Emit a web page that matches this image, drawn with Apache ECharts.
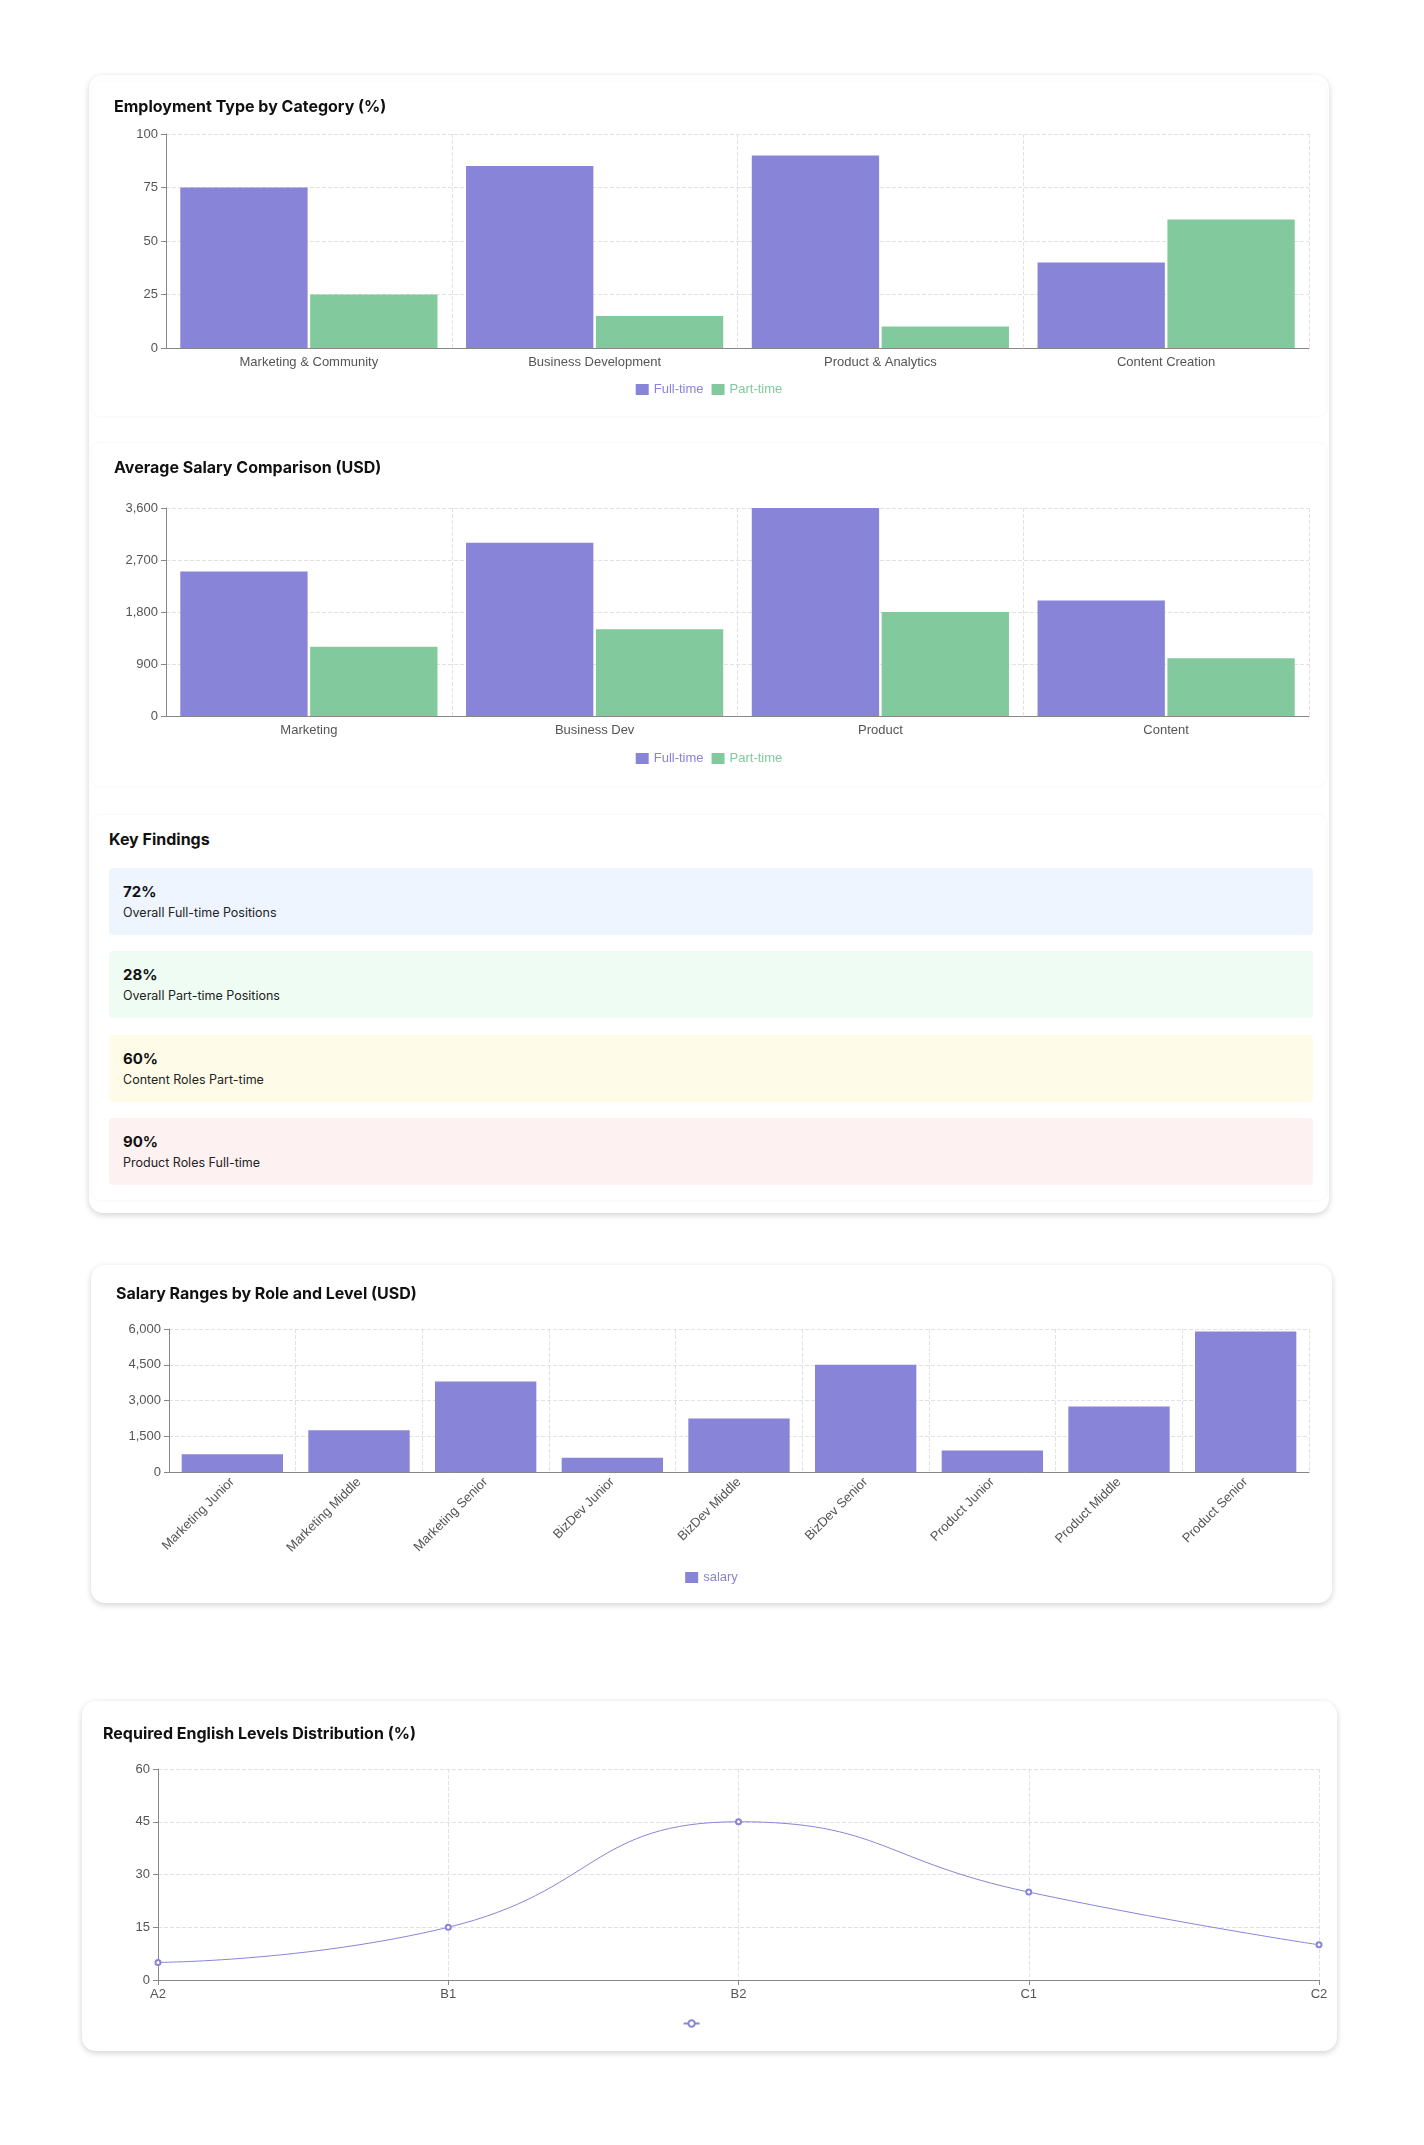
<!DOCTYPE html>
<html>
<head>
<meta charset="utf-8">
<script src="https://cdn.jsdelivr.net/npm/echarts@6/dist/echarts.min.js"></script>
<style>
    body {margin: 0; background: #fff; font-family: Inter, "Noto Sans", sans-serif;}
    .card {position: absolute; background: #fff; border-radius: 14px; box-shadow: 0 2px 6px rgba(0,0,0,0.18);}
    .section {position: absolute; background: #fff; border-radius: 8px; box-shadow: 0 0 3px rgba(0,0,0,0.06);}
    .chart {position: absolute;}
    .kf-title {position: absolute; left: 109px; top: 829px; font-size: 16px; font-weight: 700; color: #111;}
    .finding {position: absolute; left: 109px; width: 1204px; height: 67px; border-radius: 4px; box-sizing: border-box; padding: 14px 14px;}
    .finding b {display: block; font-size: 15px; color: #111;}
    .finding span {font-size: 12.5px; color: #222;}
</style>
</head>
<body>
<div class="card" style="left:89px;top:75px;width:1240px;height:1138px"></div>
<div class="section" style="left:92px;top:82px;width:1234px;height:334px"></div>
<div class="section" style="left:92px;top:443px;width:1234px;height:343px"></div>
<div class="section" style="left:92px;top:815px;width:1234px;height:385px"></div>
<div class="card" style="left:91px;top:1265px;width:1241px;height:338px"></div>
<div class="card" style="left:82px;top:1701px;width:1255px;height:350px"></div>

<div id="c1" class="chart" style="left:89px;top:82px;width:1240px;height:334px"></div>
<div id="c2" class="chart" style="left:89px;top:443px;width:1240px;height:343px"></div>
<div class="kf-title">Key Findings</div>
<div id="findings"></div>
<div id="c3" class="chart" style="left:91px;top:1265px;width:1241px;height:338px"></div>
<div id="c4" class="chart" style="left:82px;top:1701px;width:1255px;height:350px"></div>

<script>
    var purple = '#8884d8', green = '#82ca9d';

    var empCategories = ['Marketing & Community', 'Business Development', 'Product & Analytics', 'Content Creation'];
    var empFull = [75, 85, 90, 40];
    var empPart = [25, 15, 10, 60];

    var salCategories = ['Marketing', 'Business Dev', 'Product', 'Content'];
    var salFull = [2500, 3000, 3600, 2000];
    var salPart = [1200, 1500, 1800, 1000];

    var levelCategories = ['Marketing Junior', 'Marketing Middle', 'Marketing Senior', 'BizDev Junior', 'BizDev Middle',
        'BizDev Senior', 'Product Junior', 'Product Middle', 'Product Senior'];
    var levelSalary = [750, 1750, 3800, 600, 2250, 4500, 900, 2750, 5900];

    var englishLevels = ['A2', 'B1', 'B2', 'C1', 'C2'];
    var englishCount = [5, 15, 45, 25, 10];

    var findingValues = ['72%', '28%', '60%', '90%'];
    var findingLabels = ['Overall Full-time Positions', 'Overall Part-time Positions', 'Content Roles Part-time', 'Product Roles Full-time'];
    var findingColors = ['#eef5ff', '#effcf3', '#fefce8', '#fef1f1'];
    var findingTops = [868, 951, 1035, 1118];

    var html = '';
    findingValues.forEach(function (v, i) {
        html += '<div class="finding" style="top:' + findingTops[i] + 'px;background:' + findingColors[i] + '"><b>' + v + '</b><span>' + findingLabels[i] + '</span></div>';
    });
    document.getElementById('findings').innerHTML = html;

    var dashed = {show: true, lineStyle: {type: 'dashed', color: '#e2e2e2'}};
    var axisText = {color: '#555', fontSize: 13};
    var titleStyle = {fontSize: 16, fontWeight: 'bold', color: '#111', fontFamily: 'Inter'};

    function barOption(title, cats, full, part, grid, legendTop, yMax, yInterval) {
        return {
            title: {text: title, left: 20, top: 12, textStyle: titleStyle},
            grid: grid,
            legend: {top: legendTop, itemWidth: 13, itemHeight: 11, itemGap: 8, icon: 'rect',
                textStyle: {fontSize: 13, color: 'inherit'}},
            xAxis: {type: 'category', data: cats, axisLabel: axisText, splitLine: dashed,
                axisTick: {alignWithLabel: true, interval: 0}, axisLine: {lineStyle: {color: '#888'}}},
            yAxis: {type: 'value', min: 0, max: yMax, interval: yInterval, axisLabel: axisText, splitLine: dashed,
                axisLine: {show: true, lineStyle: {color: '#888'}}, axisTick: {show: true}},
            series: [
                {name: 'Full-time', type: 'bar', data: full, itemStyle: {color: purple}, barGap: '2%', barCategoryGap: '10%'},
                {name: 'Part-time', type: 'bar', data: part, itemStyle: {color: green}}
            ]
        };
    }

    echarts.init(document.getElementById('c1')).setOption(
        barOption('Employment Type by Category (%)', empCategories, empFull, empPart,
            {left: 77, right: 20, top: 52, bottom: 68}, 296, 100, 25));
    echarts.init(document.getElementById('c2')).setOption(
        barOption('Average Salary Comparison (USD)', salCategories, salFull, salPart,
            {left: 77, right: 20, top: 65, bottom: 70}, 304, 3600, 900));

    echarts.init(document.getElementById('c3')).setOption({
        title: {text: 'Salary Ranges by Role and Level (USD)', left: 20, top: 16, textStyle: titleStyle},
        grid: {left: 78, right: 23, top: 64, bottom: 131},
        legend: {top: 301, itemWidth: 13, itemHeight: 11, icon: 'rect', textStyle: {fontSize: 13, color: 'inherit'}},
        xAxis: {type: 'category', data: levelCategories, splitLine: dashed,
            axisLabel: {color: '#555', fontSize: 13, rotate: 45, interval: 0},
            axisTick: {alignWithLabel: true}, axisLine: {lineStyle: {color: '#888'}}},
        yAxis: {type: 'value', min: 0, max: 6000, interval: 1500, axisLabel: axisText, splitLine: dashed,
            axisLine: {show: true, lineStyle: {color: '#888'}}, axisTick: {show: true}},
        series: [{name: 'salary', type: 'bar', data: levelSalary, itemStyle: {color: purple}, barCategoryGap: '20%'}]
    });

    echarts.init(document.getElementById('c4')).setOption({
        title: {text: 'Required English Levels Distribution (%)', left: 16, top: 20, textStyle: titleStyle},
        grid: {left: 76, right: 18, top: 68, bottom: 71},
        legend: {top: 311, itemWidth: 16, itemHeight: 8, textStyle: {fontSize: 13, color: 'inherit'}},
        xAxis: {type: 'category', data: englishLevels, boundaryGap: false, splitLine: dashed, axisLabel: axisText,
            axisLine: {lineStyle: {color: '#888'}}},
        yAxis: {type: 'value', min: 0, max: 60, interval: 15, axisLabel: axisText, splitLine: dashed,
            axisLine: {show: true, lineStyle: {color: '#888'}}, axisTick: {show: true}},
        series: [{name: 'count', type: 'line', smooth: true, data: englishCount, symbol: 'emptyCircle', symbolSize: 5,
            itemStyle: {color: purple}, lineStyle: {color: purple, width: 1}}]
    });
</script>
</body>
</html>
